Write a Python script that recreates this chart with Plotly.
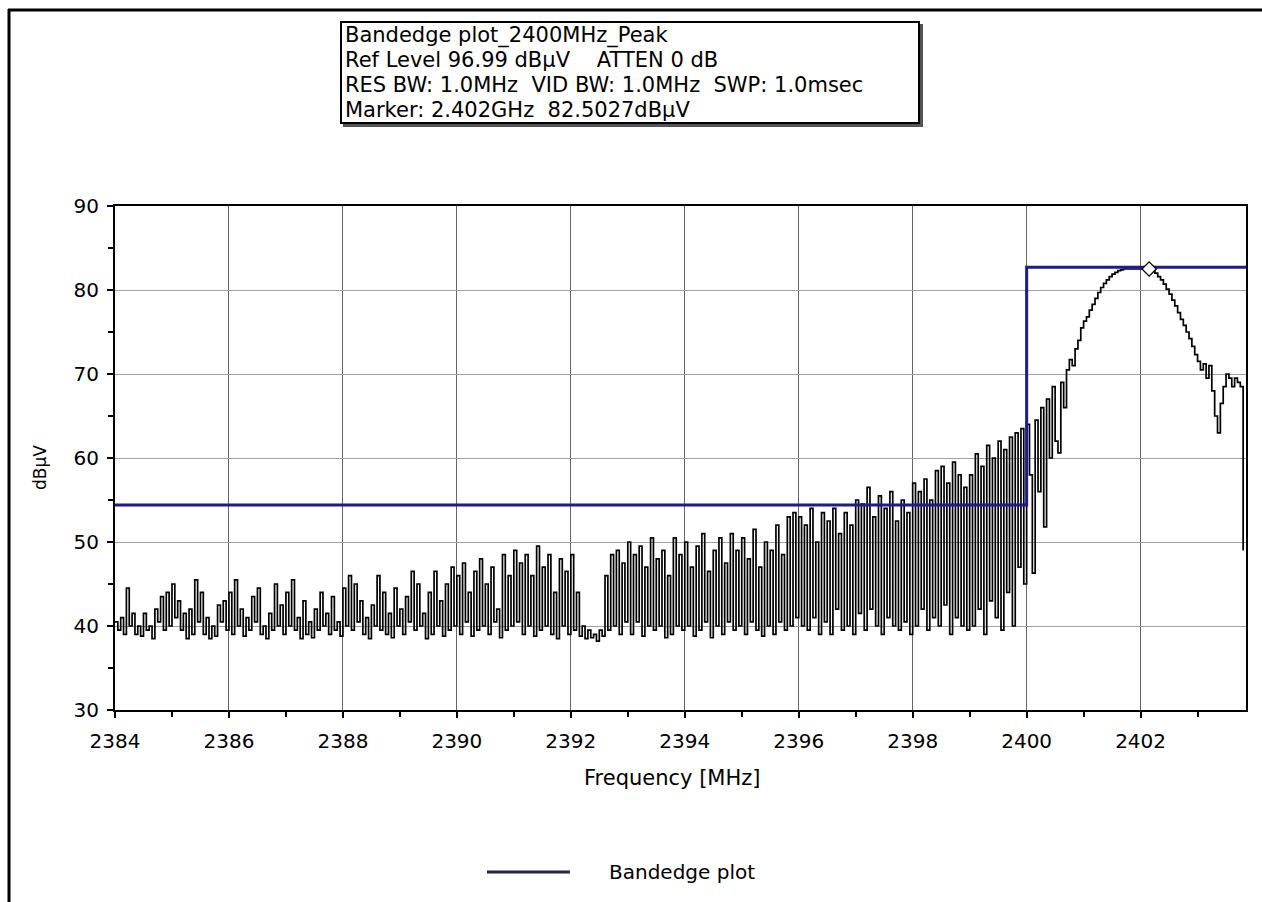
import numpy as np
import plotly.graph_objects as go

# ---------------- data ----------------
freq_start = 2384.0   # MHz
freq_step = 0.05      # MHz

# measured level (dBµV), one row per MHz, 20 samples per row
lvl_2384 = [40.5, 39.5, 41, 39, 44.5, 40, 41.5, 39, 40, 38.8, 41.5, 39.5, 40, 38.5, 42, 40.5, 43.5, 39.5, 44, 40]
lvl_2385 = [45, 41, 43, 39.5, 41.5, 38.5, 42, 39, 45.5, 40.5, 44, 39, 41, 38.5, 40, 38.8, 42.5, 40.5, 43, 39.5]
lvl_2386 = [44, 39, 45.5, 40, 42, 38.8, 41, 39.5, 43.5, 40.5, 44.5, 39, 40, 38.5, 41.5, 39.5, 45, 40, 42.5, 39]
lvl_2387 = [44, 40, 45.5, 39.5, 41, 38.5, 43, 39, 40.5, 38.6, 42, 39.5, 44, 40, 41.5, 39, 43.5, 39.5, 40.5, 38.8]
lvl_2388 = [44.5, 40, 46, 39.5, 45, 40.5, 43, 39, 41, 38.5, 42.5, 40, 46, 39.5, 44, 39, 41.5, 38.6, 44.5, 40]
lvl_2389 = [42, 39, 43.5, 40.5, 46.5, 39.5, 45, 40, 41.5, 38.5, 44, 39, 46.5, 40, 43, 38.8, 45, 39.5, 47, 40]
lvl_2390 = [46, 39, 47.5, 40.5, 44, 38.8, 46.5, 39.5, 48, 40, 45, 39, 47, 40.5, 42, 38.6, 48.5, 39.5, 46, 40]
lvl_2391 = [49, 40.5, 47.5, 39, 48.5, 40, 46, 38.8, 49.5, 39.5, 47, 40, 48.5, 39, 44, 38.5, 48, 40, 46.5, 39]
lvl_2392 = [48.5, 39.5, 44, 38.8, 40, 38.5, 39.5, 38.6, 39, 38.2, 39.5, 38.8, 46, 39.5, 48.5, 40, 49, 39, 47.5, 40.5]
lvl_2393 = [50, 39, 48.5, 40.5, 49.5, 38.8, 47, 40, 50.5, 39.5, 48, 40, 49, 38.6, 46, 39, 50.5, 40, 48.5, 39.5]
lvl_2394 = [50, 40, 47, 38.8, 49.5, 39.5, 51, 40.5, 46.5, 38.6, 49, 40, 50.5, 39, 47.5, 40.5, 51, 39.5, 49, 40]
lvl_2395 = [50.5, 39, 48, 40.5, 51.5, 39.5, 47, 38.8, 50, 40, 49, 39, 52, 40.5, 48.5, 39.5, 53, 40, 53.5, 41]
lvl_2396 = [53, 40, 52, 39.5, 54, 41, 50, 39, 53.5, 40.5, 52.5, 39, 54, 42, 51, 39.5, 53.5, 40, 52, 39]
lvl_2397 = [55, 41.5, 54.5, 39.5, 56.5, 42, 53, 40, 55.5, 39, 54, 41, 56, 40, 52.5, 39.5, 55, 40.5, 53.5, 39]
lvl_2398 = [57, 40, 56, 42, 57.5, 39.5, 55, 41, 58.5, 40, 59, 42.5, 57, 39, 59.5, 41, 58, 40, 56.5, 39.5]
lvl_2399 = [58, 40, 60.5, 42, 59, 39, 61.5, 43, 60, 41, 62, 39.5, 61, 44, 62.5, 40, 63, 47, 63.5, 45]
lvl_2400 = [64, 58, 46.3, 64.5, 56, 66, 51.8, 67, 60, 68.5, 62, 60.6, 69, 66, 70.5, 71.7, 71, 73, 74, 75.5]
lvl_2401 = [76.3, 76.8, 77.6, 78.3, 79, 79.7, 80.3, 80.8, 81.2, 81.6, 81.9, 82.1, 82.3, 82.4, 82.5, 82.5, 82.5, 82.5, 82.5, 82.5]
lvl_2402 = [82.5, 82.5, 82.5, 82.5, 82.3, 82.0, 81.6, 81.2, 80.7, 80.1, 79.5, 78.8, 78.1, 77.3, 76.5, 75.8, 75, 74.2, 73.3, 72.3]
lvl_2403 = [71.5, 70.5, 71.2, 69.5, 71, 68, 65, 63, 66.5, 68.5, 70, 69.5, 68.5, 69.5, 69, 68.5, 49]

# bandedge limit line
limit_x = [2384, 2400, 2400, 2403.85]
limit_y = [54.4, 54.4, 82.7, 82.7]

# marker
marker_freq = [2402.15]
marker_level = [82.5]

x_ticks = [2384, 2386, 2388, 2390, 2392, 2394, 2396, 2398, 2400, 2402]
y_ticks = [30, 40, 50, 60, 70, 80, 90]

info_lines = [
    "Bandedge plot_2400MHz_Peak",
    "Ref Level 96.99 dBµV\u00a0\u00a0\u00a0\u00a0ATTEN 0 dB",
    "RES BW: 1.0MHz\u00a0\u00a0VID BW: 1.0MHz\u00a0\u00a0SWP: 1.0msec",
    "Marker: 2.402GHz\u00a0\u00a082.5027dBµV",
]

# ---------------- build ----------------
level = (lvl_2384 + lvl_2385 + lvl_2386 + lvl_2387 + lvl_2388 + lvl_2389 + lvl_2390 +
         lvl_2391 + lvl_2392 + lvl_2393 + lvl_2394 + lvl_2395 + lvl_2396 + lvl_2397 +
         lvl_2398 + lvl_2399 + lvl_2400 + lvl_2401 + lvl_2402 + lvl_2403)
freq = [round(freq_start + freq_step * i, 3) for i in range(len(level))]

W, H = 1262, 902
L, R, T, B = 115, 1246, 206, 710   # plot area in pixels


def px(xp):
    return (xp - L) / (R - L)


def py(yp):
    return (B - yp) / (B - T)


FONT = "DejaVu Sans, Liberation Sans, Arial, sans-serif"

fig = go.Figure()
fig.add_trace(go.Scatter(x=freq, y=level, mode="lines", line=dict(color="black", width=1.7, shape="hv"),
                         showlegend=False, hoverinfo="skip"))
fig.add_trace(go.Scatter(x=limit_x, y=limit_y, mode="lines", line=dict(color="#1c1c8c", width=3),
                         name="Bandedge plot", showlegend=False))
fig.add_trace(go.Scatter(x=marker_freq, y=marker_level, mode="markers",
                         marker=dict(symbol="diamond", size=11, color="white",
                                     line=dict(color="black", width=1.3)),
                         showlegend=False))

fig.update_layout(
    width=W, height=H,
    margin=dict(l=L, r=W - R, t=T, b=H - B, pad=0),
    paper_bgcolor="white", plot_bgcolor="white",
    font=dict(family=FONT, size=20, color="black"),
    showlegend=False,
)
fig.update_xaxes(range=[2384, 2403.85], tickvals=x_ticks, ticktext=[str(v) for v in x_ticks],
                 showgrid=True, gridcolor="#666666", gridwidth=1,
                 showline=True, linecolor="black", linewidth=2, mirror=True,
                 ticks="outside", ticklen=6, tickwidth=1.5, tickcolor="black",
                 ticklabelstandoff=6,
                 minor=dict(dtick=1, tick0=2384, ticks="outside", ticklen=5, tickcolor="black", showgrid=False),
                 zeroline=False, tickfont=dict(size=20))
fig.update_yaxes(range=[30, 90], tickvals=y_ticks, ticktext=[str(v) for v in y_ticks],
                 showgrid=True, gridcolor="#a0a0a0", gridwidth=1,
                 showline=True, linecolor="black", linewidth=2, mirror=True,
                 ticks="outside", ticklen=6, tickwidth=1.5, tickcolor="black",
                 ticklabelstandoff=4,
                 minor=dict(dtick=5, tick0=30, ticks="outside", ticklen=5, tickcolor="black", showgrid=False),
                 zeroline=False, tickfont=dict(size=20))

shapes = [
    # outer frame (left and top)
    dict(type="line", xref="paper", yref="paper", x0=px(9), x1=px(9), y0=py(9), y1=py(H + 5),
         line=dict(color="black", width=3)),
    dict(type="line", xref="paper", yref="paper", x0=px(8), x1=px(W + 5), y0=py(10), y1=py(10),
         line=dict(color="black", width=3)),
    # info box with shadow
    dict(type="rect", xref="paper", yref="paper", x0=px(344), x1=px(922), y0=py(126), y1=py(25),
         line=dict(color="#555555", width=2), fillcolor="#555555"),
    dict(type="rect", xref="paper", yref="paper", x0=px(341), x1=px(919), y0=py(123), y1=py(22),
         line=dict(color="black", width=2), fillcolor="white"),
    # legend line
    dict(type="line", xref="paper", yref="paper", x0=px(487), x1=px(570), y0=py(872), y1=py(872),
         line=dict(color="#23234a", width=3)),
]

# line pitch comes from the base font size (1.3 em), glyph size from the inner span
info_text = "<br>".join('<span style="font-size:21px">' + t + "</span>" for t in info_lines)
annotations = [
    dict(xref="paper", yref="paper", x=px(343), y=py(72), xanchor="left", yanchor="middle",
         text=info_text, align="left", showarrow=False, font=dict(size=19.3)),
    dict(xref="paper", yref="paper", x=px(40), y=py(467), text="dBµV", textangle=-90,
         showarrow=False, font=dict(size=17), xanchor="center", yanchor="middle"),
    dict(xref="paper", yref="paper", x=px(672), y=py(778), text="Frequency [MHz]",
         showarrow=False, font=dict(size=21), xanchor="center", yanchor="middle"),
    dict(xref="paper", yref="paper", x=px(607), y=py(872), text="Bandedge plot",
         showarrow=False, font=dict(size=20), xanchor="left", yanchor="middle"),
]
fig.update_layout(shapes=shapes, annotations=annotations)

fig.write_html("out.html", config={"displayModeBar": False},
               post_script="document.body.style.margin='0';")
